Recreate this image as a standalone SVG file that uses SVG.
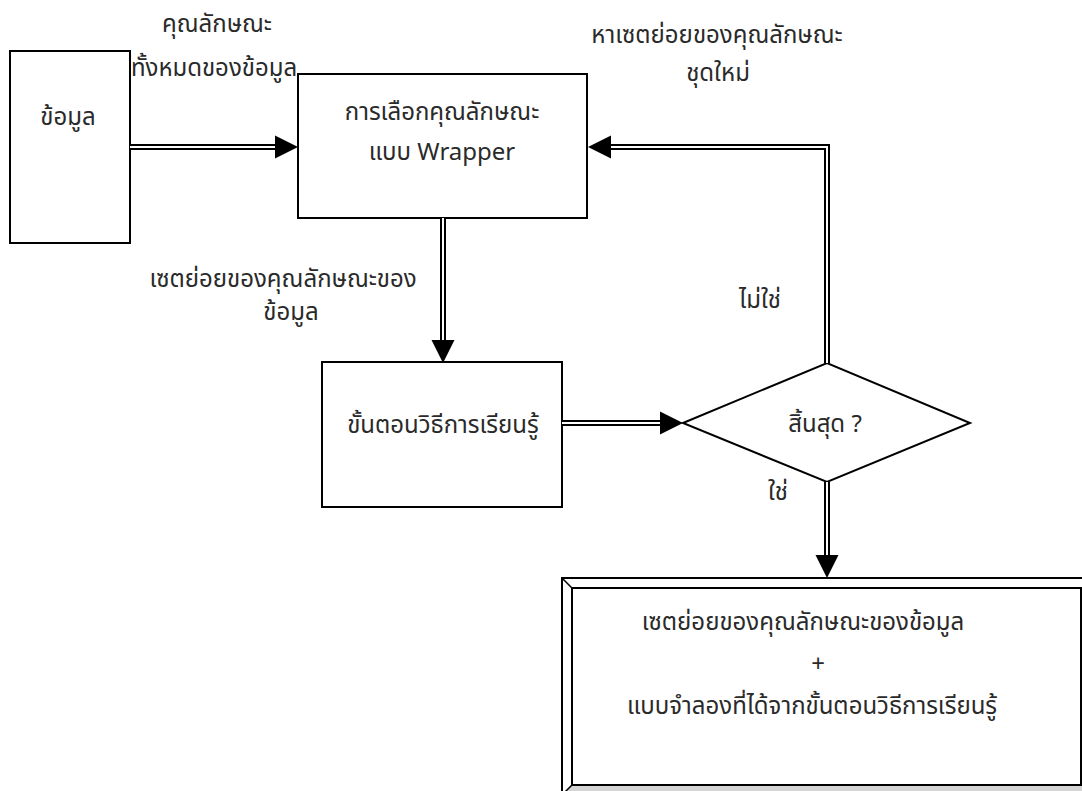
<svg xmlns="http://www.w3.org/2000/svg" width="1082" height="791" viewBox="0 0 1082 791">
<style>
  .box{fill:#fff;stroke:#000;stroke-width:2}
  .t{font-family:"Noto Sans Thai","Leelawadee UI","Noto Sans",Tahoma,sans-serif;font-size:24px;fill:#2a2a2a;text-anchor:middle}
  .dbl{fill:none;stroke:#000;stroke-width:6;stroke-linejoin:miter}
  .dblw{fill:none;stroke:#fff;stroke-width:2;stroke-linejoin:miter}
</style>
<defs>
  <marker id="ah" markerUnits="userSpaceOnUse" markerWidth="24" markerHeight="24" refX="0" refY="11.5" orient="auto" overflow="visible">
    <path d="M0,0 L23,11.5 L0,23 z" fill="#000"/>
  </marker>
</defs>
<rect width="1082" height="791" fill="#fff"/>

<g id="node-data">
  <rect class="box" x="10" y="51" width="120" height="192"/>
  <text class="t" x="68" y="125">ข้อมูล</text>
</g>

<g id="node-wrapper">
  <rect class="box" x="298" y="74" width="289" height="144"/>
  <text class="t" x="442" y="120">การเลือกคุณลักษณะ</text>
  <text class="t" x="442" y="160">แบบ Wrapper</text>
</g>

<g id="node-learning">
  <rect class="box" x="322" y="362" width="240" height="145"/>
  <text class="t" x="443" y="433">ขั้นตอนวิธีการเรียนรู้</text>
</g>

<g id="node-decision">
  <polygon class="box" points="683,423 827,363 970,423 827,482"/>
  <text class="t" x="825" y="432">สิ้นสุด ?</text>
</g>

<g id="node-result">
  <rect x="562" y="578" width="540" height="230" fill="#fff" stroke="#000" stroke-width="2"/>
  <polygon points="562,798 572,785 1090,785 1090,798" fill="#d4d4d4"/>
  <rect x="572" y="588" width="509" height="197" fill="#fff" stroke="#000" stroke-width="2"/>
  <line x1="562" y1="578" x2="572" y2="588" stroke="#000" stroke-width="1.5"/>
  <line x1="562" y1="795" x2="572" y2="785" stroke="#000" stroke-width="1.5"/>
  <text class="t" x="803" y="630">เซตย่อยของคุณลักษณะของข้อมูล</text>
  <text class="t" x="818" y="672">+</text>
  <text class="t" x="812" y="714">แบบจำลองที่ได้จากขั้นตอนวิธีการเรียนรู้</text>
</g>

<g id="connectors">
  <path class="dbl" d="M130,147 L275,147" marker-end="url(#ah)"/>
  <path class="dblw" d="M130,147 L275,147"/>
  <path class="dbl" d="M443,218 L443,340" marker-end="url(#ah)"/>
  <path class="dblw" d="M443,218 L443,340"/>
  <path class="dbl" d="M562,423 L660,423" marker-end="url(#ah)"/>
  <path class="dblw" d="M562,423 L660,423"/>
  <path class="dbl" d="M827,482 L827,555" marker-end="url(#ah)"/>
  <path class="dblw" d="M827,482 L827,555"/>
  <path class="dbl" d="M827,363 L827,147 L611,147" marker-end="url(#ah)"/>
  <path class="dblw" d="M827,363 L827,147 L611,147"/>
</g>

<g id="labels">
  <text class="t" x="217" y="32">คุณลักษณะ</text>
  <text class="t" x="214" y="76">ทั้งหมดของข้อมูล</text>
  <text class="t" x="717" y="43">หาเซตย่อยของคุณลักษณะ</text>
  <text class="t" x="718" y="81">ชุดใหม่</text>
  <text class="t" x="283" y="287">เซตย่อยของคุณลักษณะของ</text>
  <text class="t" x="291" y="320">ข้อมูล</text>
  <text class="t" x="760" y="308">ไม่ใช่</text>
  <text class="t" x="778" y="500">ใช่</text>
</g>
</svg>
